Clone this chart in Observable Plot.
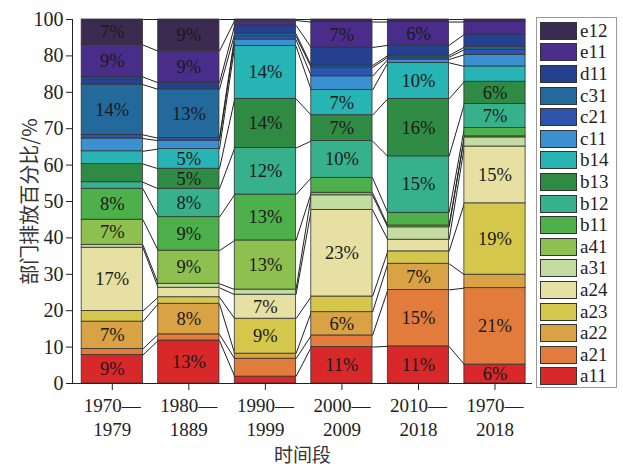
<!DOCTYPE html>
<html>
<head>
<meta charset="utf-8">
<script src="https://cdn.jsdelivr.net/npm/d3@7"></script>
<script src="https://cdn.jsdelivr.net/npm/@observablehq/plot@0.6"></script>
<style>
  body { margin: 0; background: #fff; }
  #wrap { position: relative; width: 623px; height: 466px; overflow: hidden; }
  #legend { position: absolute; left: 536px; top: 17px; width: 81px; height: 371px; border: 1px solid #999; box-sizing: border-box; padding-top: 2px; font-family: 'Liberation Serif', serif; font-size: 19px; color: #222; }
  .item { display: flex; align-items: center; height: 21.6px; }
  .sw { width: 37px; height: 18px; margin-left: 3px; margin-right: 3px; border: 1px solid #333; box-sizing: border-box; }
</style>
</head>
<body>
<div id="wrap"><div id="chart"></div><div id="legend"></div></div>
<script>
// ---- data ----
const categories = ["a11","a21","a22","a23","a24","a31","a41","b11","b12","b13","b14","c11","c21","c31","d11","e11","e12"];
const colors = ["#d8282a","#e27c3c","#d9a244","#d5c74c","#e6e1a2","#c3dca2","#8dc04f","#4db04a","#36b18b","#2f8b44","#28b4b4","#3b90d2","#2d55ae","#23699c","#25408f","#4a2d8b","#3c2b50"];
const periods = ["1970—\n1979","1980—\n1889","1990—\n1999","2000—\n2009","2010—\n2018","1970—\n2018"];

const v1970s = [7.8,1.7,7.5,2.9,17.4,0.8,6.9,8.5,1.8,5.0,3.5,3.5,1.0,13.8,2.1,8.8,7.0];
const v1980s = [11.8,1.7,8.4,1.8,2.6,1.1,9.1,9.2,7.8,5.5,5.4,2.3,0.7,13.4,1.8,8.7,8.7];
const v1990s = [1.9,4.9,1.4,9.6,6.6,1.4,13.5,12.6,12.8,13.5,14.5,1.8,0.9,0.7,2.3,1.3,0.3];
const v2000s = [10.0,3.2,6.4,4.3,23.8,4.0,0.7,4.1,10.1,7.1,6.9,3.8,2.4,0.5,5.0,7.0,0.7];
const v2010s = [10.2,15.5,7.2,3.4,3.2,3.4,0.5,3.5,15.5,15.8,9.9,0.9,0.6,0.5,2.8,6.4,0.7];
const vTotal = [5.2,21.0,3.7,19.6,15.6,2.5,0.3,2.3,6.6,6.1,4.2,3.2,1.4,0.7,3.5,3.4,0.7];

const l1970s = ["9%","","7%","","17%","","7%","8%","","","","","","14%","","9%","7%"];
const l1980s = ["13%","","8%","","","","9%","9%","8%","5%","5%","","","13%","","9%","9%"];
const l1990s = ["","","","9%","7%","","13%","13%","12%","14%","14%","","","","","",""];
const l2000s = ["11%","","6%","","23%","","","","10%","7%","7%","","","","","7%",""];
const l2010s = ["11%","15%","7%","","","","","","15%","16%","10%","","","","","6%",""];
const lTotal = ["6%","21%","","19%","15%","","","","7%","6%","","","","","","",""];

const yTicks = [0,10,20,30,40,50,60,70,80,90,100];
const yTickLabels = ["0","10","20","30","40","50","60","70","80","80","100"];
const yTitle = "部门排放百分比/%";
const xTitle = "时间段";

// ---- build ----
const series = [v1970s, v1980s, v1990s, v2000s, v2010s, vTotal];
const labels = [l1970s, l1980s, l1990s, l2000s, l2010s, lTotal];
const rows = [];
const cums = [];
series.forEach((vals, i) => {
  let c = 0; const cum = [0];
  vals.forEach((v, k) => {
    rows.push({i, cat: categories[k], y1: c, y2: c + v, label: labels[i][k]});
    c += v; cum.push(c);
  });
  cums.push(cum);
});
const links = [];
for (let i = 0; i < cums.length - 1; i++) {
  for (let k = 0; k < cums[i].length; k++) {
    links.push({x1: i + 0.4, y1: cums[i][k], x2: i + 1 - 0.4, y2: cums[i + 1][k]});
  }
}
const xmin = -0.52, xmax = 5.49;

const chart = Plot.plot({
  width: 623, height: 466,
  marginLeft: 72, marginRight: 91, marginTop: 19, marginBottom: 83,
  x: {type: "linear", domain: [xmin, xmax], axis: null},
  y: {domain: [0, 100], axis: null},
  color: {domain: categories, range: colors},
  style: {fontFamily: "'Liberation Serif', 'Noto Sans CJK SC', serif", fontSize: "18px", color: "#222", background: "white"},
  marks: [
    Plot.link(links, {x1: "x1", y1: "y1", x2: "x2", y2: "y2", stroke: "#222", strokeWidth: 1}),
    Plot.rect(rows, {x1: d => d.i - 0.4, x2: d => d.i + 0.4, y1: "y1", y2: "y2", fill: "cat", stroke: "#333", strokeWidth: 0.8}),
    Plot.text(rows.filter(d => d.label), {x: "i", y: d => (d.y1 + d.y2) / 2, text: "label", fontSize: 18.5, fill: "#1a1a1a"}),
    Plot.axisY({ticks: yTicks, tickFormat: d => yTickLabels[Math.round(d / 10)], tickSize: 6, tickPadding: 3, label: null, fontSize: 20}),
    Plot.axisX({ticks: [0,1,2,3,4,5], tickFormat: d => periods[d], tickSize: 7, tickPadding: 5, label: null, fontSize: 19, lineHeight: 1.25}),
    Plot.ruleX([xmin], {y1: 0, y2: 100, stroke: "#222"}),
    Plot.ruleY([0], {stroke: "#222"}),
    Plot.text([yTitle], {frameAnchor: "left", dx: -42, rotate: -90, textAnchor: "middle", lineAnchor: "middle", fontSize: 20, fontFamily: "'Noto Sans CJK SC', sans-serif", fill: "#333"}),
    Plot.text([xTitle], {frameAnchor: "bottom", dy: 72, textAnchor: "middle", lineAnchor: "middle", fontSize: 19, fontFamily: "'Noto Sans CJK SC', sans-serif", fill: "#333"})
  ]
});
document.getElementById("chart").appendChild(chart);

const legend = document.getElementById("legend");
categories.slice().reverse().forEach(c => {
  const it = document.createElement("div"); it.className = "item";
  const sw = document.createElement("div"); sw.className = "sw";
  sw.style.background = colors[categories.indexOf(c)];
  const t = document.createElement("span"); t.textContent = c;
  it.appendChild(sw); it.appendChild(t); legend.appendChild(it);
});
</script>
</body>
</html>
